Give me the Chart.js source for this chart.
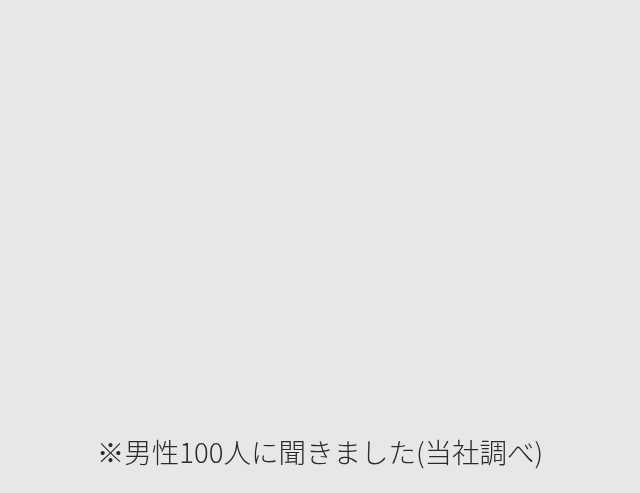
<!DOCTYPE html>
<html lang="ja">
<head>
<meta charset="utf-8">
<script src="https://cdn.jsdelivr.net/npm/chart.js@4"></script>
<style>
  html, body { margin: 0; padding: 0; background: #e7e7e7; }
  #wrap { width: 640px; height: 493px; }
</style>
</head>
<body>
<div id="wrap"><canvas id="chart"></canvas></div>
<script>
// --- DATA (nothing is drawn in the reference, only the note) ---
const categories = [];
const values = [];
const noteText = "※男性100人に聞きました(当社調べ)";

const ctx = document.getElementById('chart').getContext('2d');
const chart = new Chart(ctx, {
    type: 'pie',
    data: {
        labels: categories,
        datasets: [{ data: values }]
    },
    options: {
        responsive: true,
        maintainAspectRatio: false,
        animation: false,
        plugins: {
            legend: { display: false },
            tooltip: { enabled: false },
            title: {
                display: true,
                text: noteText,
                position: 'bottom',
                color: '#2b2b2b',
                font: { family: '"Noto Sans CJK JP"', size: 27.5, weight: 300 },
                padding: { top: 10, bottom: 24 }
            }
        }
    }
});
</script>
</body>
</html>
